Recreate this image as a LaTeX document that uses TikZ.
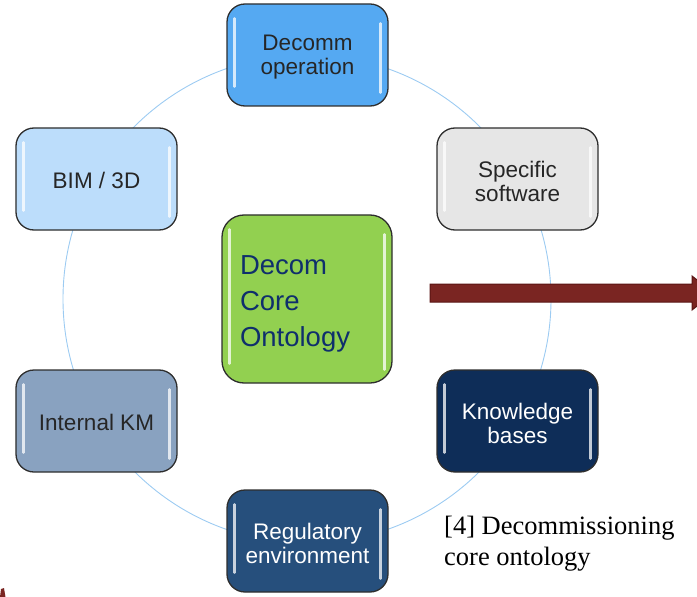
\documentclass[tikz,border=0pt]{standalone}
\usepackage{fontspec}
\setmainfont{Liberation Serif}
\newfontfamily\boxfont{Liberation Sans}
\usetikzlibrary{calc}

\definecolor{ringblue}{HTML}{9CCBF2}
\definecolor{opblue}{HTML}{55A9F2}
\definecolor{swgray}{HTML}{E6E6E6}
\definecolor{kbnavy}{HTML}{0E2D58}
\definecolor{regblue}{HTML}{264F7C}
\definecolor{kmgray}{HTML}{89A2C0}
\definecolor{bimblue}{HTML}{BCDDFB}
\definecolor{coregreen}{HTML}{92D050}
\definecolor{coretext}{HTML}{0F2F6C}
\definecolor{arrowred}{HTML}{7A2522}
\definecolor{arrowedge}{HTML}{5A1514}
\definecolor{boxedge}{HTML}{2E2E2E}

\tikzset{
  ring/.style={draw=ringblue, line width=0.9bp},
  topicbox/.style={draw=boxedge, line width=1.3bp, rounded corners=18bp,
    minimum width=161bp, minimum height=102bp, align=center,
    font=\boxfont\fontsize{22.5bp}{24bp}\selectfont, text=black!85},
  darkbox/.style={topicbox, text=white},
  topictext/.style={align=center, inner sep=0pt,
    font=\boxfont\fontsize{22.5bp}{24bp}\selectfont, text=black!85},
  corebox/.style={draw=boxedge, line width=1.3bp, rounded corners=22bp,
    minimum width=170bp, minimum height=168bp, fill=coregreen},
  coretext/.style={text width=134bp, align=left, text=coretext, inner sep=0pt,
    font=\boxfont\fontsize{27.5bp}{36bp}\selectfont},
  sheen/.style={draw=white, opacity=0.75, line width=2.4bp, line cap=round},
  bigarrow/.style={fill=arrowred, draw=arrowedge, line width=1bp},
  caption/.style={align=left, anchor=north west, inner sep=0pt,
    font=\fontsize{26.5bp}{31bp}\selectfont}
}

% glossy streaks along the inner left and right edges of a box
\newcommand\boxgloss[1]{%
  \draw[sheen] ($(#1.north west)+(8,15)$) -- ($(#1.south west)+(8,-20)$);
  \draw[sheen] ($(#1.north east)+(-8,20)$) -- ($(#1.south east)+(-8,-14)$);
}

\begin{document}
\begin{tikzpicture}[x=1bp, y=-1bp]
\useasboundingbox (0,0) rectangle (697,597);
\begin{scope}
\clip (0,0) rectangle (697,597);

% ring behind the topic boxes
\coordinate (hub) at (307,299);
\draw[ring] (hub) circle (244bp);

% topic boxes around the ring
\node[topicbox, fill=opblue]  (op)  at (307.5,55)  {};
\node[topicbox, fill=swgray]  (sw)  at (517.5,179) {};
\node[darkbox,  fill=kbnavy]  (kb)  at (517.5,421) {};
\node[darkbox,  fill=regblue] (reg) at (307.5,541) {};
\node[topicbox, fill=kmgray]  (km)  at (96.5,421)  {};
\node[topicbox, fill=bimblue] (bim) at (96.5,179)  {};

\boxgloss{op}
\boxgloss{sw}
\boxgloss{kb}
\boxgloss{reg}
\boxgloss{km}
\boxgloss{bim}

% box labels
\node[topictext] (optxt)  at ($(op)+(0,2)$)  {Decomm\\operation};
\node[topictext] (swtxt)  at ($(sw)+(0,2)$)  {Specific\\software};
\node[topictext, text=white] (kbtxt)  at ($(kb)+(0,2)$)  {Knowledge\\bases};
\node[topictext, text=white] (regtxt) at ($(reg)+(0,2)$) {Regulatory\\environment};
\node[topictext] (kmtxt)  at ($(km)+(0,1)$)  {Internal KM};
\node[topictext] (bimtxt) at ($(bim)+(0,1)$) {BIM / 3D};

% core ontology in the centre
\node[corebox] (core) at (hub) {};
\boxgloss{core}
\node[coretext] (coretxt) at ($(core)+(0,5)$) {Decom\\Core\\Ontology};

% block arrow leading out to the right
\coordinate (arrtail) at (430,293);
\draw[bigarrow] ($(arrtail)+(0,-9)$) -- ++(262,0) -- ++(0,-8) -- ++(22,17)
  -- ++(-22,17) -- ++(0,-8) -- ($(arrtail)+(0,9)$) -- cycle;

% tip of a second arrow at the lower left corner
\coordinate (edgemark) at (0,597);
\fill[arrowred] (edgemark) -- ++(1,-8) -- ++(3,-1) -- ++(1.5,9) -- cycle;

% caption
\node[caption] (cap) at (444,516) {[4] Decommissioning\\core ontology};
\end{scope}
\end{tikzpicture}
\end{document}
